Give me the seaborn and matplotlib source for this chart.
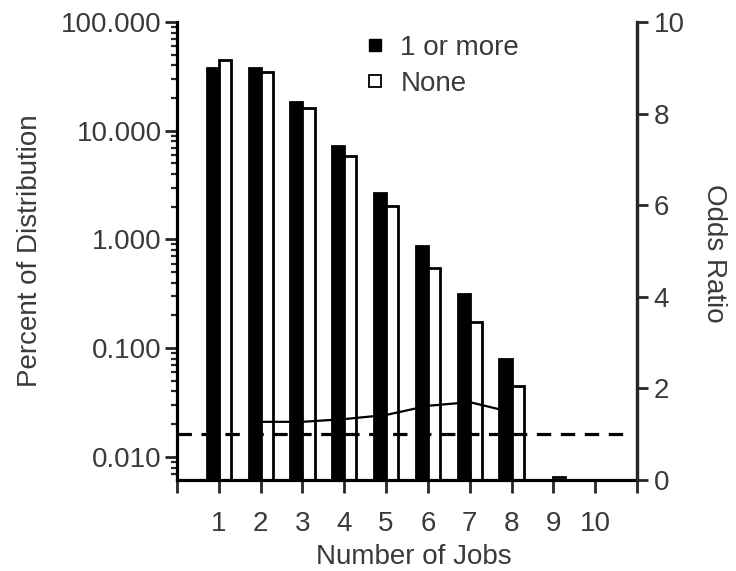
import numpy as np
import pandas as pd
import matplotlib
matplotlib.use("Agg")
import matplotlib.pyplot as plt
import seaborn as sns
from matplotlib.lines import Line2D
from matplotlib.ticker import FixedLocator, LogLocator, NullFormatter

# ---- data ----
jobs = [1, 2, 3, 4, 5, 6, 7, 8, 9]
one_or_more = [37.8, 38.0, 18.4, 7.2, 2.68, 0.87, 0.315, 0.080, np.nan]
none = [44.8, 34.7, 16.2, 5.86, 2.03, 0.547, 0.174, 0.045, 0.0065]
odds_jobs = [2, 3, 4, 5, 6, 7, 8]
odds_ratio = [1.27, 1.27, 1.33, 1.42, 1.62, 1.70, 1.48]
ref_odds = 1.0
x_tick_labels = ["1", "2", "3", "4", "5", "6", "7", "8", "9", "10"]
y_tick_values = [0.01, 0.1, 1, 10, 100]
y_tick_labels = ["0.010", "0.100", "1.000", "10.000", "100.000"]
odds_ticks = [0, 2, 4, 6, 8, 10]
series_names = ["1 or more", "None"]

df = pd.DataFrame({
    "jobs": jobs * 2,
    "pct": one_or_more + none,
    "group": [series_names[0]] * len(jobs) + [series_names[1]] * len(jobs),
}).dropna()

sns.set_style("ticks")
plt.rcParams["font.family"] = ["Liberation Sans", "DejaVu Sans"]
TXT = "#3a3a3a"
FS = 20

fig = plt.figure(figsize=(7.36, 5.71), dpi=100)
ax = fig.add_axes([177 / 736, 1 - 480 / 571, 460 / 736, 458 / 571])
ax.set_yscale("log")

sns.barplot(data=df, x="jobs", y="pct", hue="group", hue_order=series_names,
            palette={series_names[0]: "black", series_names[1]: "white"},
            native_scale=True, dodge=True, width=0.58, edgecolor="black",
            linewidth=2.0, legend=False, ax=ax, errorbar=None, saturation=1)

ax.set_xlim(0, 11)
ax.set_ylim(0.00614, 100)
ax.xaxis.set_major_locator(FixedLocator(list(range(0, 12))))
ax.set_xticklabels([""] + x_tick_labels + [""])
ax.yaxis.set_major_locator(FixedLocator(y_tick_values))
ax.set_yticklabels(y_tick_labels)
ax.yaxis.set_minor_locator(LogLocator(base=10, subs=np.arange(2, 10)))
ax.yaxis.set_minor_formatter(NullFormatter())

for s in ["left", "bottom", "right"]:
    ax.spines[s].set_linewidth(2.3)
    ax.spines[s].set_color("black")
ax.spines["top"].set_visible(False)
ax.tick_params(axis="y", which="major", length=9, width=2.0, pad=2,
               labelsize=FS, labelcolor=TXT, direction="out")
ax.tick_params(axis="y", which="minor", length=4.5, width=1.6, direction="out")
ax.tick_params(axis="x", which="major", length=9.5, width=2.0, pad=13,
               labelsize=FS, labelcolor=TXT, direction="out")
ax.set_xlabel("")
ax.set_ylabel("")

ax2 = ax.twinx()
ax2.set_ylim(0, 10)
ax2.set_xlim(0, 11)
sns.lineplot(x=odds_jobs, y=odds_ratio, ax=ax2, color="black", linewidth=1.6)
ax2.axhline(ref_odds, xmin=0.0, xmax=0.98, color="black", linewidth=2.3,
            linestyle=(0, (4.5, 3.0)))
ax2.yaxis.set_major_locator(FixedLocator(odds_ticks))
ax2.set_yticklabels([str(t) for t in odds_ticks])
ax2.tick_params(axis="y", length=8, width=2.0, pad=4, labelsize=FS,
                labelcolor=TXT, direction="out")
for s in ["top", "left", "bottom"]:
    ax2.spines[s].set_visible(False)
ax2.spines["right"].set_linewidth(2.3)
ax2.set_ylabel("")

# axis titles
fig.text(30 / 736, 1 - 251 / 571, "Percent of Distribution", rotation=90,
         ha="center", va="center", fontsize=FS, color=TXT)
fig.text(714 / 736, 1 - 253 / 571, "Odds Ratio", rotation=270,
         ha="center", va="center", fontsize=FS, color=TXT)
fig.text(414 / 736, 1 - 557 / 571, "Number of Jobs",
         ha="center", va="center", fontsize=FS, color=TXT)

# legend
handles = [
    Line2D([], [], marker="s", linestyle="none", markersize=9,
           markerfacecolor="black", markeredgecolor="black"),
    Line2D([], [], marker="s", linestyle="none", markersize=9,
           markerfacecolor="white", markeredgecolor="black", markeredgewidth=1.3),
]
leg = ax.legend(handles, series_names, loc="upper left",
                bbox_to_anchor=(367 / 736, 1 - 35 / 571),
                bbox_transform=fig.transFigure, frameon=False, fontsize=FS,
                handlelength=0.6, handletextpad=0.6, labelspacing=0.35,
                borderpad=0, borderaxespad=0)
for t in leg.get_texts():
    t.set_color(TXT)

fig.savefig("out.png", dpi=100)
